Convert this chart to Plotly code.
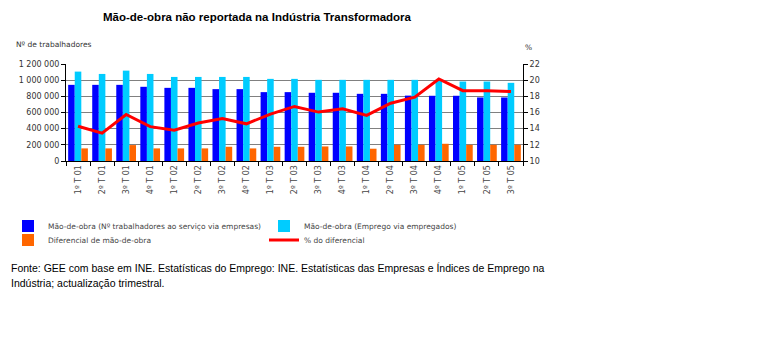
import plotly.graph_objects as go

categories = ["1º T 01", "2º T 01", "3º T 01", "4º T 01",
              "1º T 02", "2º T 02", "3º T 02", "4º T 02",
              "1º T 03", "2º T 03", "3º T 03", "4º T 03",
              "1º T 04", "2º T 04", "3º T 04", "4º T 04",
              "1º T 05", "2º T 05", "3º T 05"]
mao_empresas = [942000, 942000, 942000, 918000, 905000, 905000, 889000, 889000,
                852000, 852000, 844000, 844000, 831000, 831000, 809000, 807000,
                807000, 786000, 786000]
mao_empregados = [1106000, 1077000, 1118000, 1077000, 1040000, 1040000, 1040000, 1040000,
                  1016000, 1016000, 1004000, 1004000, 1004000, 1004000, 1004000, 1004000,
                  983000, 983000, 967000]
diferencial = [156000, 156000, 197000, 156000, 156000, 156000, 176000, 156000,
               176000, 176000, 180000, 180000, 152000, 200000, 200000, 213000,
               200000, 200000, 200000]
pct_diferencial = [14.3, 13.45, 15.75, 14.25, 13.8, 14.7, 15.25, 14.6,
                   15.8, 16.75, 16.05, 16.45, 15.65, 17.15, 17.9, 20.15,
                   18.7, 18.7, 18.6]

FONT = "DejaVu Sans"
W, H = 775, 358

fig = go.Figure()
fig.add_trace(go.Bar(x=categories, y=mao_empresas,
                     name="Mão-de-obra (Nº trabalhadores ao serviço via empresas)",
                     marker=dict(color="#0000FF", line=dict(width=0)), legend="legend"))
fig.add_trace(go.Bar(x=categories, y=mao_empregados,
                     name="Mão-de-obra (Emprego via empregados)",
                     marker=dict(color="#00CCFF", line=dict(width=0)), legend="legend2"))
fig.add_trace(go.Bar(x=categories, y=diferencial,
                     name="Diferencial de mão-de-obra",
                     marker=dict(color="#FF6600", line=dict(width=0)), legend="legend3"))
fig.add_trace(go.Scatter(x=categories, y=pct_diferencial, yaxis="y2",
                         name="% do diferencial", mode="lines",
                         line=dict(color="#FF0000", width=3), legend="legend4"))


def leg(px, py):
    return dict(xref="container", yref="container", x=px / W, y=1 - py / H,
                xanchor="left", yanchor="middle", orientation="v",
                font=dict(family=FONT, size=7.5, color="#444444"),
                itemwidth=30, bgcolor="rgba(0,0,0,0)", borderwidth=0)


fig.update_layout(
    width=W, height=H,
    margin=dict(l=58, r=260, t=56, b=205, autoexpand=False),
    paper_bgcolor="white", plot_bgcolor="white",
    separators=", ",
    barmode="group", bargap=0.18, bargroupgap=0,
    font=dict(family=FONT, size=8, color="#333333"),
    xaxis=dict(showline=True, linecolor="black", linewidth=1,
               ticks="outside", tickson="boundaries", ticklen=4, tickcolor="black",
               tickangle=-90, tickfont=dict(size=8, color="#444444"),
               showgrid=False, automargin=False),
    yaxis=dict(range=[0, 1200000], dtick=200000, tickformat=",.0f",
               showline=True, linecolor="black", linewidth=1,
               ticks="outside", ticklen=4, tickcolor="black",
               showgrid=True, gridcolor="#808080", gridwidth=1,
               zeroline=False, tickfont=dict(size=8, color="#333333"),
               automargin=False),
    yaxis2=dict(range=[10, 22], dtick=2, overlaying="y", side="right",
                showline=True, linecolor="black", linewidth=1,
                ticks="outside", ticklen=4, tickcolor="black",
                showgrid=False, zeroline=False,
                tickfont=dict(size=8, color="#333333"), automargin=False),
    legend=leg(0, 218),
    legend2=leg(256, 218),
    legend3=leg(0, 232),
    legend4=leg(256, 232),
    showlegend=True,
)

fig.add_annotation(text="<b>Mão-de-obra não reportada na Indústria Transformadora</b>",
                   xref="paper", yref="paper", x=0.42, y=1.485,
                   xanchor="center", yanchor="middle", showarrow=False,
                   font=dict(family="Liberation Sans", size=11.5, color="black"))
fig.add_annotation(text="Nº de trabalhadores",
                   xref="paper", yref="paper", x=-0.114, y=1.196,
                   xanchor="left", yanchor="middle", showarrow=False,
                   font=dict(family=FONT, size=7.5, color="#333333"))
fig.add_annotation(text="%",
                   xref="paper", yref="paper", x=1.0, y=1.175,
                   xanchor="left", yanchor="middle", showarrow=False,
                   font=dict(family=FONT, size=7.5, color="#333333"))
fig.add_annotation(text="Fonte: GEE com base em INE. Estatísticas do Emprego: INE. Estatísticas das Empresas e Índices de Emprego na",
                   xref="paper", yref="paper", x=-0.125, y=-1.103,
                   xanchor="left", yanchor="middle", showarrow=False,
                   font=dict(family="Liberation Sans", size=10.5, color="black"))
fig.add_annotation(text="Indústria; actualização trimestral.",
                   xref="paper", yref="paper", x=-0.125, y=-1.258,
                   xanchor="left", yanchor="middle", showarrow=False,
                   font=dict(family="Liberation Sans", size=10.5, color="black"))

fig.write_html("out.html")
